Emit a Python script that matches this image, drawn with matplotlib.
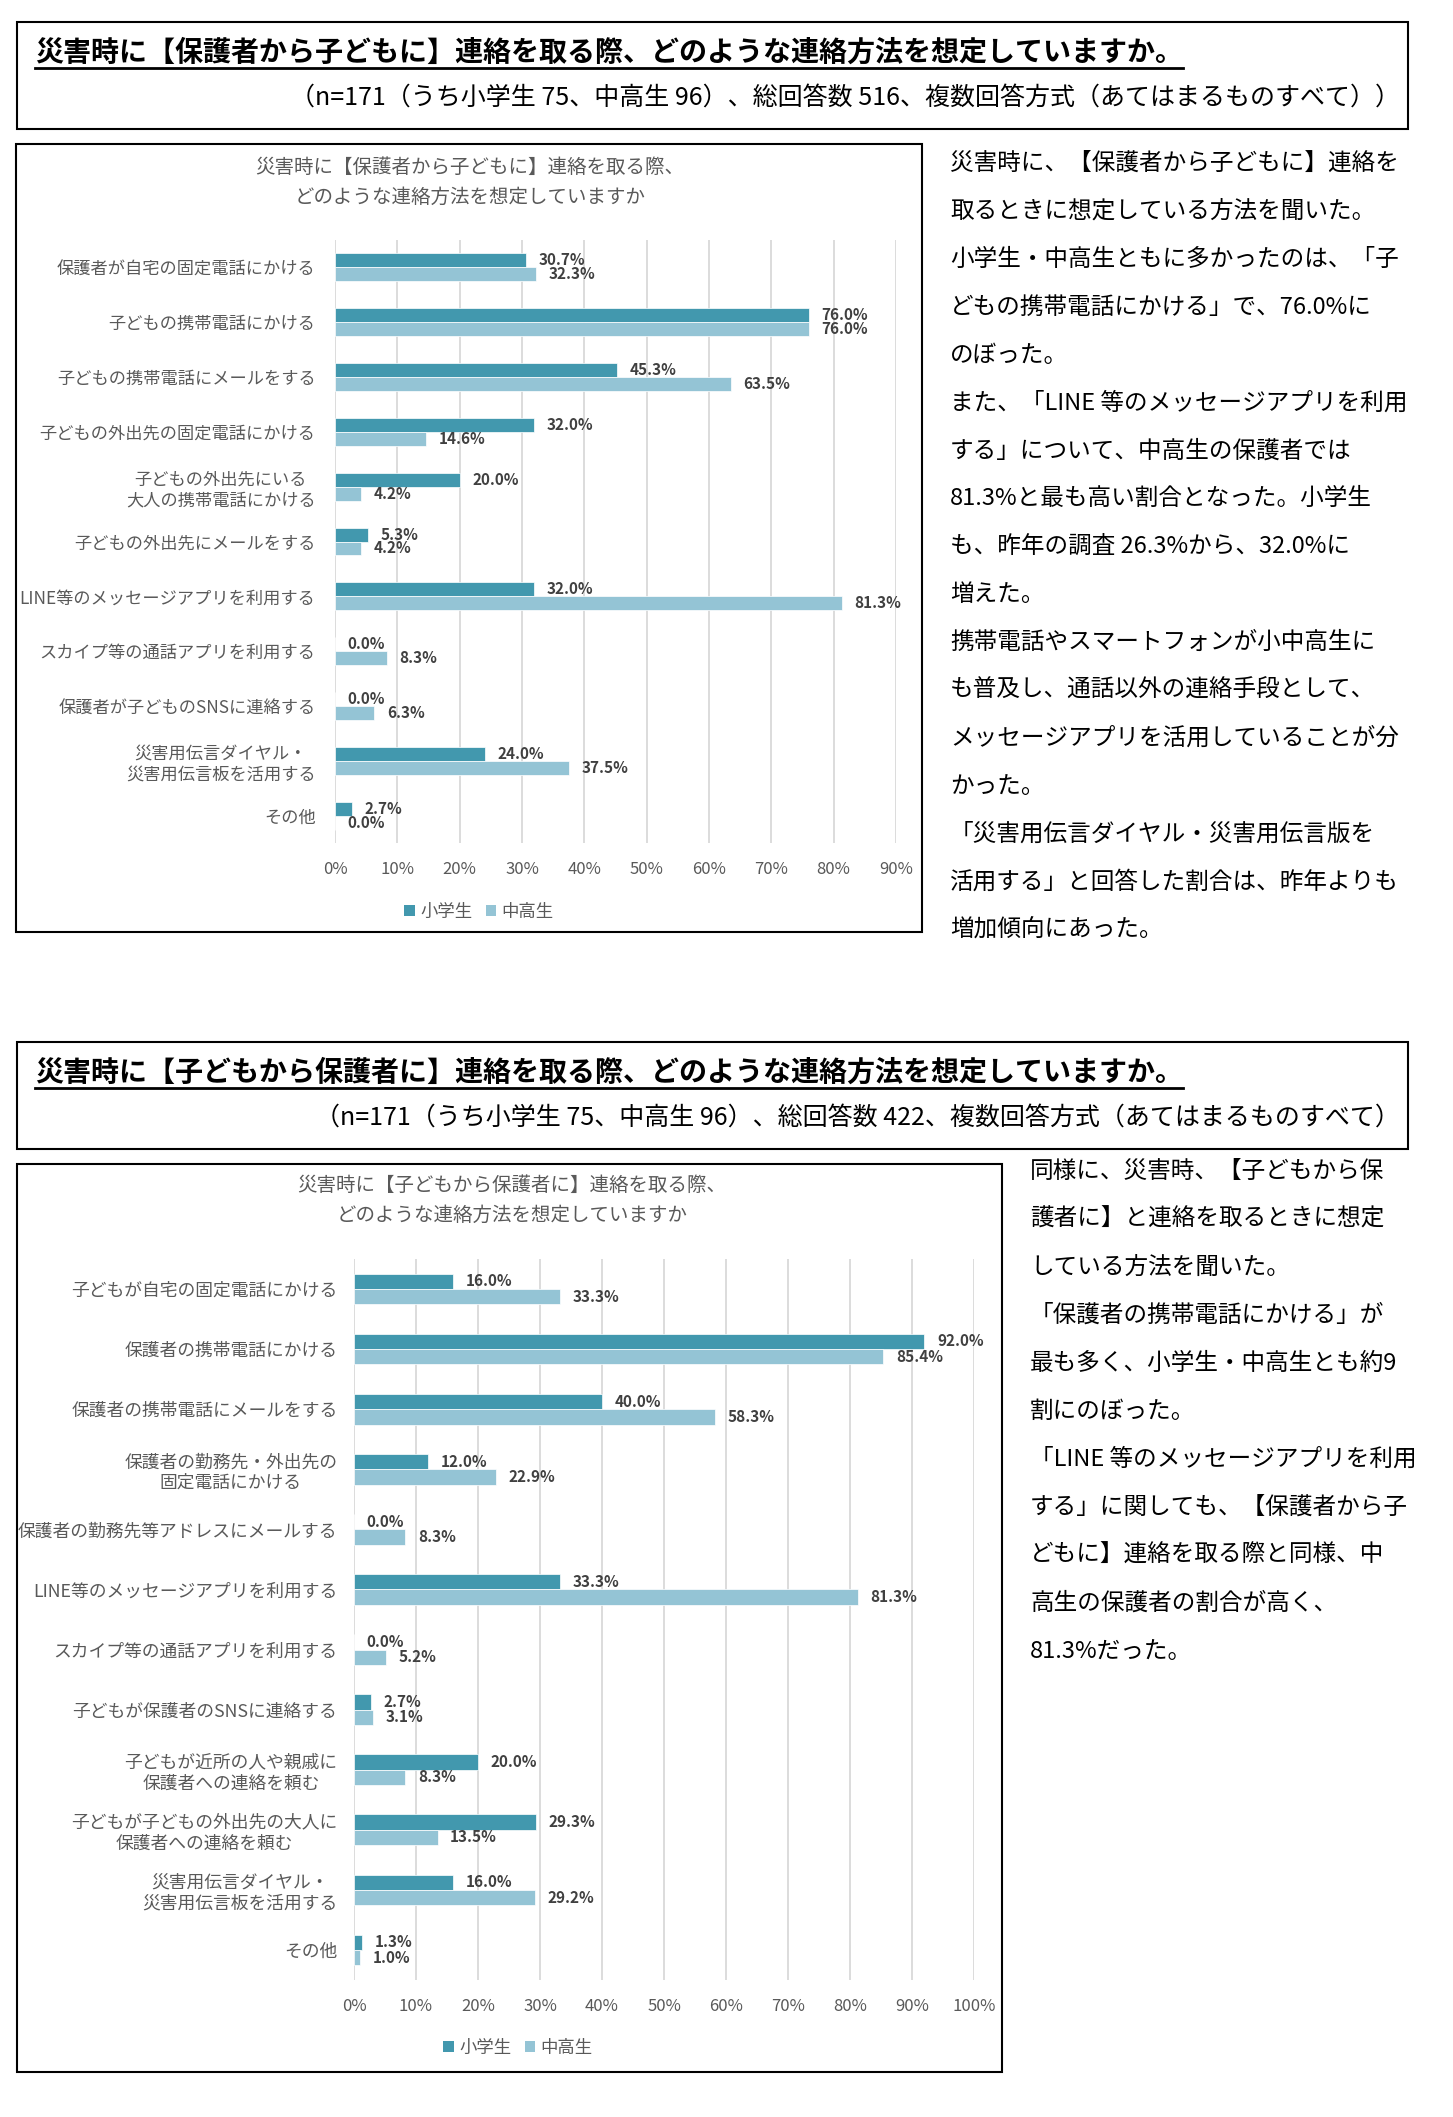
import matplotlib
matplotlib.use('Agg')
import matplotlib.pyplot as plt
from matplotlib.patches import Rectangle, Patch
from matplotlib.lines import Line2D

plt.rcParams['font.family'] = ['Noto Sans CJK JP', 'DejaVu Sans']

# ---- data ----
series_names = ['小学生', '中高生']

cats_1 = ['保護者が自宅の固定電話にかける', '子どもの携帯電話にかける', '子どもの携帯電話にメールをする',
          '子どもの外出先の固定電話にかける', '子どもの外出先にいる\n大人の携帯電話にかける',
          '子どもの外出先にメールをする', 'LINE等のメッセージアプリを利用する',
          'スカイプ等の通話アプリを利用する', '保護者が子どものSNSに連絡する',
          '災害用伝言ダイヤル・\n災害用伝言板を活用する', 'その他']
elem_1 = [30.7, 76.0, 45.3, 32.0, 20.0, 5.3, 32.0, 0.0, 0.0, 24.0, 2.7]
mid_1 = [32.3, 76.0, 63.5, 14.6, 4.2, 4.2, 81.3, 8.3, 6.3, 37.5, 0.0]

cats_2 = ['子どもが自宅の固定電話にかける', '保護者の携帯電話にかける', '保護者の携帯電話にメールをする',
          '保護者の勤務先・外出先の\n固定電話にかける', '保護者の勤務先等アドレスにメールする',
          'LINE等のメッセージアプリを利用する', 'スカイプ等の通話アプリを利用する',
          '子どもが保護者のSNSに連絡する', '子どもが近所の人や親戚に\n保護者への連絡を頼む',
          '子どもが子どもの外出先の大人に\n保護者への連絡を頼む',
          '災害用伝言ダイヤル・\n災害用伝言板を活用する', 'その他']
elem_2 = [16.0, 92.0, 40.0, 12.0, 0.0, 33.3, 0.0, 2.7, 20.0, 29.3, 16.0, 1.3]
mid_2 = [33.3, 85.4, 58.3, 22.9, 8.3, 81.3, 5.2, 3.1, 8.3, 13.5, 29.2, 1.0]

head_title_1 = '災害時に【保護者から子どもに】連絡を取る際、どのような連絡方法を想定していますか。'
head_sub_1 = '（n=171（うち小学生 75、中高生 96）、総回答数 516、複数回答方式（あてはまるものすべて））'
head_title_2 = '災害時に【子どもから保護者に】連絡を取る際、どのような連絡方法を想定していますか。'
head_sub_2 = '（n=171（うち小学生 75、中高生 96）、総回答数 422、複数回答方式（あてはまるものすべて）'

chart_title_1 = ['災害時に【保護者から子どもに】連絡を取る際、', 'どのような連絡方法を想定していますか']
chart_title_2 = ['災害時に【子どもから保護者に】連絡を取る際、', 'どのような連絡方法を想定していますか']

body_1 = ['災害時に、【保護者から子どもに】連絡を',
          '取るときに想定している方法を聞いた。',
          '小学生・中高生ともに多かったのは、「子',
          'どもの携帯電話にかける」で、76.0%に',
          'のぼった。',
          'また、「LINE 等のメッセージアプリを利用',
          'する」について、中高生の保護者では',
          '81.3%と最も高い割合となった。小学生',
          'も、昨年の調査 26.3%から、32.0%に',
          '増えた。',
          '携帯電話やスマートフォンが小中高生に',
          'も普及し、通話以外の連絡手段として、',
          'メッセージアプリを活用していることが分',
          'かった。',
          '「災害用伝言ダイヤル・災害用伝言版を',
          '活用する」と回答した割合は、昨年よりも',
          '増加傾向にあった。']
body_2 = ['同様に、災害時、【子どもから保',
          '護者に】と連絡を取るときに想定',
          'している方法を聞いた。',
          '「保護者の携帯電話にかける」が',
          '最も多く、小学生・中高生とも約9',
          '割にのぼった。',
          '「LINE 等のメッセージアプリを利用',
          'する」に関しても、【保護者から子',
          'どもに】連絡を取る際と同様、中',
          '高生の保護者の割合が高く、',
          '81.3%だった。']

DARK = '#4298ae'
LIGHT = '#94c4d5'
GREY = '#595959'

W, H = 1453, 2117
fig = plt.figure(figsize=(W / 100, H / 100), dpi=100)
fig.patch.set_facecolor('white')


def fx(x):
    return x / W


def fy(y):
    return 1 - y / H


def box(x0, y0, x1, y1, lw=1.5):
    fig.patches.append(Rectangle((fx(x0), fy(y1)), (x1 - x0) / W, (y1 - y0) / H,
                                 transform=fig.transFigure, fill=False,
                                 edgecolor='black', linewidth=lw))


def header(title, sub, top):
    box(17, top, 1408, top + 107)
    t = fig.text(fx(35), fy(top + 31), title, fontsize=20.2, fontweight='bold',
                 ha='left', va='center', color='black')
    fig.text(fx(1400), fy(top + 76), sub, fontsize=18, ha='right', va='center', color='black')
    r = fig.canvas.get_renderer()
    bb = t.get_window_extent(renderer=r)
    fig.lines.append(Line2D([bb.x0 / W, bb.x1 / W], [fy(top + 46)] * 2,
                            transform=fig.transFigure, color='black', linewidth=2))


def chart(cats, a, b, rect, xmax, title_lines, title_xy, legend_xy, label_pad, label_size, box_rect):
    box(*box_rect)
    left, top, right, bottom = rect
    ax = fig.add_axes([fx(left), fy(bottom), (right - left) / W, (bottom - top) / H])
    n = len(cats)
    pos = list(range(n))
    h = 0.255
    b1 = ax.barh([p - h / 2 for p in pos], a, height=h, color=DARK, edgecolor='white', linewidth=0.5)
    b2 = ax.barh([p + h / 2 for p in pos], b, height=h, color=LIGHT, edgecolor='white', linewidth=0.5)
    for bars in (b1, b2):
        ax.bar_label(bars, fmt='%.1f%%', padding=9, fontsize=11, fontweight='bold', color='#404040')
    ax.set_ylim(n - 0.5, -0.5)
    ax.set_xlim(0, xmax)
    ticks = list(range(0, xmax + 1, 10))
    ax.set_xticks(ticks)
    ax.set_xticklabels([f'{t}%' for t in ticks], fontsize=12, color=GREY)
    ax.set_yticks(pos)
    ax.set_yticklabels(cats, fontsize=label_size, color=GREY)
    for t in ax.get_yticklabels():
        t.set_multialignment('center')
    ax.tick_params(axis='both', length=0)
    ax.tick_params(axis='x', pad=13)
    ax.tick_params(axis='y', pad=label_pad)
    ax.xaxis.grid(True, color='#d9d9d9', linewidth=1.3)
    ax.set_axisbelow(True)
    for s in ax.spines.values():
        s.set_visible(False)
    for i, line in enumerate(title_lines):
        fig.text(fx(title_xy[0]), fy(title_xy[1] + i * 30), line, fontsize=14,
                 color=GREY, ha='center', va='center')
    handles = [Patch(facecolor=DARK), Patch(facecolor=LIGHT)]
    ax.legend(handles, series_names, loc='center', bbox_to_anchor=(fx(legend_xy[0]), fy(legend_xy[1])),
              bbox_transform=fig.transFigure, ncol=2, frameon=False, fontsize=12.5,
              handlelength=0.6, handleheight=0.6, handletextpad=0.3, columnspacing=0.8,
              labelcolor=GREY)
    return ax


header(head_title_1, head_sub_1, 22)
chart(cats_1, elem_1, mid_1, (335, 240, 896, 843), 90, chart_title_1, (470, 167),
      (479, 912), 14, 12.4, (16, 144, 922, 932))
for i, line in enumerate(body_1):
    fig.text(fx(950), fy(163.5 + i * 47.9), line, fontsize=17, ha='left', va='center', color='black')

header(head_title_2, head_sub_2, 1042)
chart(cats_2, elem_2, mid_2, (354, 1259, 974, 1980), 100, chart_title_2, (512, 1185),
      (518, 2048), 12, 12.8, (17, 1164, 1002, 2072))
for i, line in enumerate(body_2):
    fig.text(fx(1030), fy(1171 + i * 48), line, fontsize=17, ha='left', va='center', color='black')

fig.savefig('out.png', dpi=100)
